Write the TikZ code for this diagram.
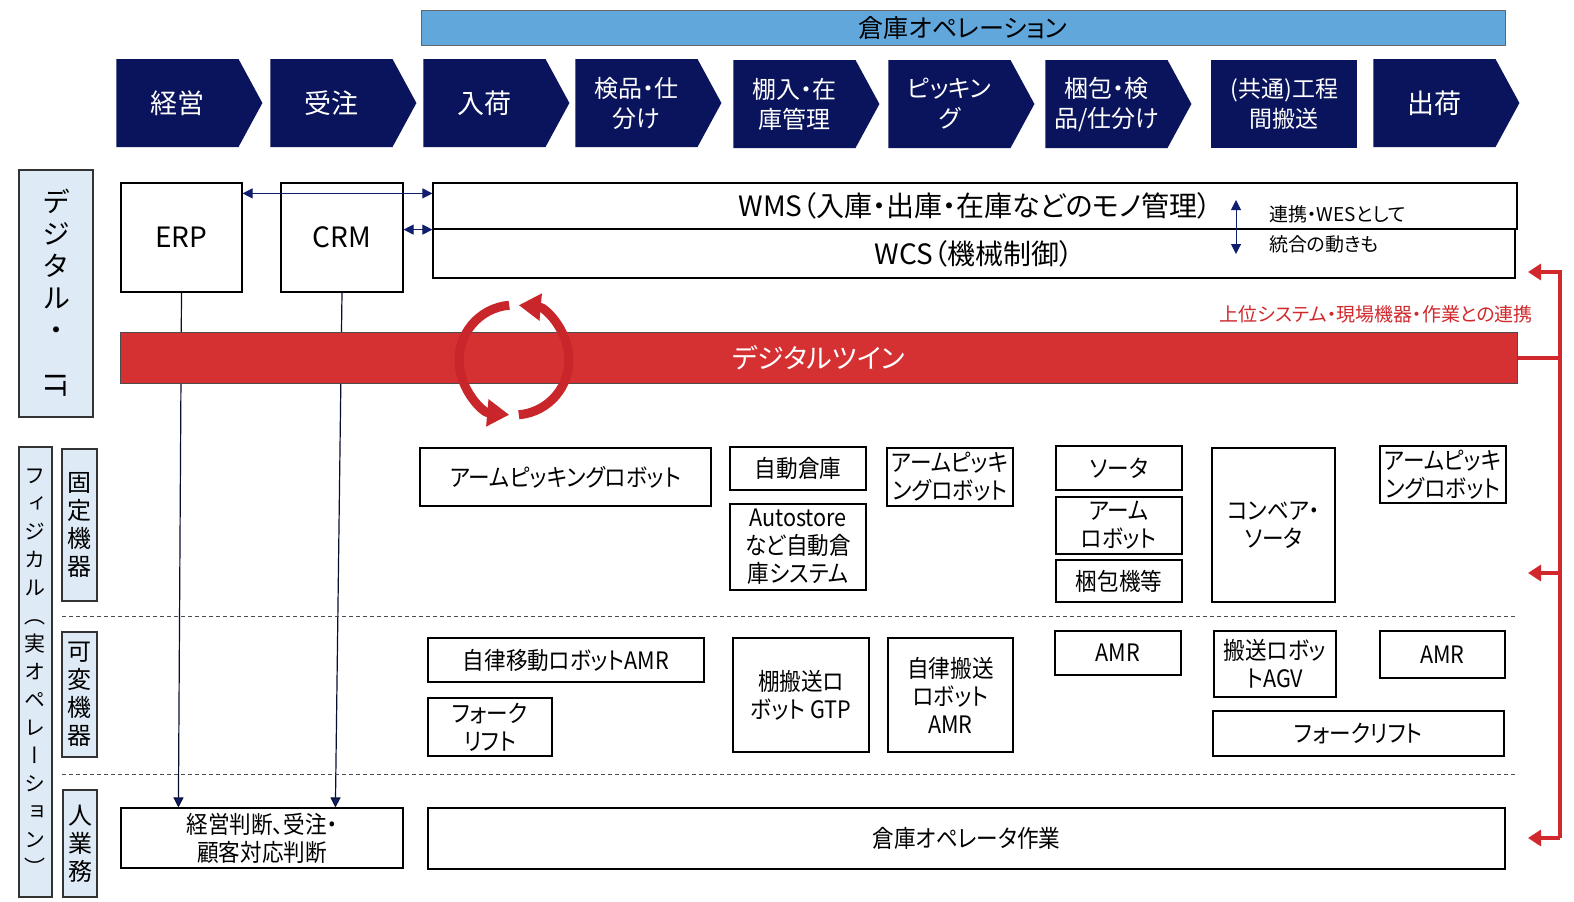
\documentclass[tikz,border=0pt]{standalone}
\usepackage{graphicx}
\usepackage{fontspec}
\setmainfont{Noto Sans CJK JP}[RawFeature=+palt]
\newfontfamily\vjp{Noto Sans CJK JP}[RawFeature=+vert]
\newfontfamily\boxjp{Noto Sans CJK JP}[RawFeature=+palt,FakeStretch=0.9]
\usetikzlibrary{arrows.meta,%
                shapes.symbols}

\definecolor{procnavy}{RGB}{10,20,92}
\definecolor{opsblue}{RGB}{97,167,220}
\definecolor{lblblue}{RGB}{222,235,247}
\definecolor{twinred}{RGB}{214,49,50}
\definecolor{ringred}{RGB}{200,38,42}
\definecolor{linkred}{RGB}{208,40,44}
\definecolor{arrnavy}{RGB}{16,30,110}

\begin{document}
\begin{tikzpicture}[x=0.5pt,y=-0.5pt]
  \useasboundingbox[fill=white] (0,0) rectangle (1574,901);

  \tikzstyle{proc}=[signal, signal to=east, signal from=nowhere, signal pointer angle=123,
                    anchor=west, fill=procnavy, text=white, minimum width=73pt, minimum height=44pt,
                    inner sep=0pt, align=center, font=\fontsize{12}{15}\selectfont]
  \tikzstyle{procbig}=[proc, font=\fontsize{13.5}{16}\selectfont]
  \tikzstyle{opsbar}=[fill=opsblue, draw=gray!80!black, line width=0.4pt, inner sep=0pt,
                      font=\fontsize{12.5}{15}\selectfont]
  \tikzstyle{lbl}=[fill=lblblue, draw=black!80, line width=0.6pt, inner sep=0pt, align=center]
  \tikzstyle{box}=[draw, line width=0.6pt, inner sep=0pt, align=center,
                   font=\boxjp\fontsize{12}{14}\selectfont]
  \tikzstyle{sysbox}=[draw, line width=0.6pt, inner sep=0pt, font=\fontsize{14}{16}\selectfont]
  \tikzstyle{twin}=[fill=twinred, draw=black!70, line width=0.5pt, inner sep=0pt, text=white,
                    font=\fontsize{13.5}{16}\selectfont]
  \tikzstyle{navarr}=[draw=arrnavy, line width=0.5pt, {Triangle[length=5pt,width=5pt]}-{Triangle[length=5pt,width=5pt]}]
  \tikzstyle{downarr}=[draw=black!55!arrnavy, line width=0.6pt, -{Triangle[length=5pt,width=5pt,fill=arrnavy]}]
  \tikzstyle{ring}=[draw=ringred, line width=4.5pt, -{Triangle[length=11pt,width=13pt]}]
  \tikzstyle{redlink}=[draw=linkred, line width=2pt]
  \tikzstyle{redtip}=[redlink, -{Triangle[length=6.5pt,width=8pt]}]
  \tikzstyle{sepline}=[black!70, line width=0.5pt, dash pattern=on 2pt off 1.5pt]

  \node[opsbar, minimum width=542pt, minimum height=17.5pt] (ops) at (963,27.5) {倉庫オペレーション};

  \node[procbig] (keiei) at (116,103) {経営};
  \node[procbig] (juchu) at (270,103) {受注};
  \node[procbig] (nyuka) at (423,103) {入荷};
  \node[proc] (kenpin) at (575,103) {検品・仕\\分け};
  \node[proc] (tanaire) at (733,104) {棚入・在\\庫管理};
  \node[proc] (picking) at (888,104) {ピッキン\\グ};
  \node[proc] (konpo) at (1045,104) {梱包・検\\品/仕分け};
  \node[fill=procnavy, text=white, minimum width=73pt, minimum height=44pt, inner sep=0pt, anchor=west,
        align=center, font=\fontsize{11.5}{15}\selectfont] (hanso) at (1211,104) {(共通)工程\\間搬送};
  \node[procbig] (shukka) at (1373,103) {出荷};

  \node[lbl, minimum width=37pt, minimum height=123.5pt, font=\vjp\fontsize{14}{16}\selectfont] (digi)
        at (56,293.5) {デ\\ジ\\タ\\ル\\・\\\rotatebox{-90}{IT}};
  \node[lbl, minimum width=16.5pt, minimum height=225pt, font=\vjp\fontsize{10.5}{14}\selectfont] (phys)
        at (35.5,672) {フ\\ィ\\ジ\\カ\\ル\\（\\実\\オ\\ペ\\レ\\ー\\シ\\ョ\\ン\\）};
  \node[lbl, minimum width=17.5pt, minimum height=76pt, font=\fontsize{12}{14}\selectfont] (fixed)
        at (79.5,525) {固\\定\\機\\器};
  \node[lbl, minimum width=17.5pt, minimum height=62.5pt, font=\fontsize{12}{14}\selectfont] (mobile)
        at (79.5,694.5) {可\\変\\機\\器};
  \node[lbl, minimum width=17pt, minimum height=53.5pt, font=\fontsize{12}{14}\selectfont] (human)
        at (80,843.5) {人\\業\\務};

  \node[sysbox, minimum width=60.5pt, minimum height=54.5pt] (erp) at (181.5,237.5) {ERP};
  \node[sysbox, minimum width=61pt, minimum height=54.5pt] (crm) at (342,237.5) {CRM};
  \node[sysbox, minimum width=542pt, minimum height=23pt] (wms) at (975,206) {WMS（入庫・出庫・在庫などのモノ管理）};
  \node[sysbox, minimum width=541pt, minimum height=24.5pt] (wcs) at (974,253.5) {WCS（機械制御）};

  \draw[navarr] ([yshift=-5.5pt]erp.north east) -- ([yshift=-5.5pt]wms.north west);
  \draw[navarr] (crm.east |- wms.south west) -- (wms.south west);

  \coordinate (wesup) at (1236,200);
  \coordinate (wesdn) at (1236,254);
  \draw[navarr] (wesup) -- (wesdn);
  \node[anchor=west, font=\fontsize{9.5}{12}\selectfont] (wesA) at (1262,214) {連携・WESとして};
  \node[anchor=west, font=\fontsize{9.5}{12}\selectfont] (wesB) at (1262,244) {統合の動きも};

  \node[box, minimum width=141pt, minimum height=30pt] (judge) at (262,838) {経営判断、受注・\\顧客対応判断};
  \node[box, minimum width=538.5pt, minimum height=30.5pt] (opwork) at (966.5,838.5) {倉庫オペレータ作業};

  \draw[downarr] (erp.south) -- ([xshift=29pt]judge.north west);
  \draw[downarr] (crm.south) -- ([xshift=107.5pt]judge.north west);

  \node[twin, minimum width=698.5pt, minimum height=25.5pt] (twin) at (818.5,357.5) {デジタルツイン};

  \coordinate (ringc) at (514,360);
  \draw[ring] ([shift={(265:55)}]ringc) arc[start angle=265, end angle=95, radius=55];
  \draw[ring] ([shift={(85:55)}]ringc) arc[start angle=85, end angle=-85, radius=55];

  \node[anchor=east, text=linkred, font=\fontsize{9.5}{12}\selectfont] (linktxt) at (1540,314)
        {上位システム・現場機器・作業との連携};

  \coordinate (rtop) at (1560,272);
  \coordinate (rbot) at (1560,838);
  \coordinate (toWcs) at (1528,272);
  \coordinate (toFix) at (1528,573);
  \coordinate (toOps) at (1528,838);
  \draw[redlink] (twin.east) -- (twin.east -| rtop);
  \draw[redtip] (rbot) -- (rtop) -- (toWcs);
  \draw[redtip] (toFix -| rtop) -- (toFix);
  \draw[redtip] (rbot) -- (toOps);

  \node[box, minimum width=145.5pt, minimum height=29pt] (armA) at (565.5,477) {アームピッキングロボット};
  \node[box, minimum width=68pt, minimum height=21.5pt] (asrs) at (798,468.5) {自動倉庫};
  \node[box, minimum width=68pt, minimum height=43pt] (autostore) at (798,547) {Autostore\\など自動倉\\庫システム};
  \node[box, minimum width=63pt, minimum height=29pt] (armB) at (950,477) {アームピッキ\\ングロボット};
  \node[box, minimum width=63pt, minimum height=22pt] (sorter) at (1119,468) {ソータ};
  \node[box, minimum width=63pt, minimum height=28.5pt] (armR) at (1119,525.5) {アーム\\ロボット};
  \node[box, minimum width=63pt, minimum height=21pt] (packer) at (1119,581) {梱包機等};
  \node[box, minimum width=61.5pt, minimum height=77pt] (conv) at (1273.5,525) {コンベア・\\ソータ};
  \node[box, minimum width=63pt, minimum height=28.5pt] (armC) at (1443,474.5) {アームピッキ\\ングロボット};

  \draw[sepline] (62,616) -- (1517,616);

  \node[box, minimum width=138pt, minimum height=22pt] (amrA) at (566,660) {自律移動ロボットAMR};
  \node[box, minimum width=62pt, minimum height=29pt] (forkA) at (490,727) {フォーク\\リフト};
  \node[box, minimum width=68pt, minimum height=57pt] (gtp) at (801,695) {棚搬送ロ\\ボット GTP};
  \node[box, minimum width=62.5pt, minimum height=57pt] (amrB) at (950.5,695) {自律搬送\\ロボット\\AMR};
  \node[box, minimum width=63pt, minimum height=22pt] (amrC) at (1118,653) {AMR};
  \node[box, minimum width=61pt, minimum height=33pt] (agv) at (1275,664) {搬送ロボッ\\トAGV};
  \node[box, minimum width=62.5pt, minimum height=23.5pt] (amrD) at (1442.5,654.5) {AMR};
  \node[box, minimum width=145.5pt, minimum height=22.5pt] (forkB) at (1358.5,733.5) {フォークリフト};

  \draw[sepline] (62,774) -- (1517,774);

\end{tikzpicture}
\end{document}
